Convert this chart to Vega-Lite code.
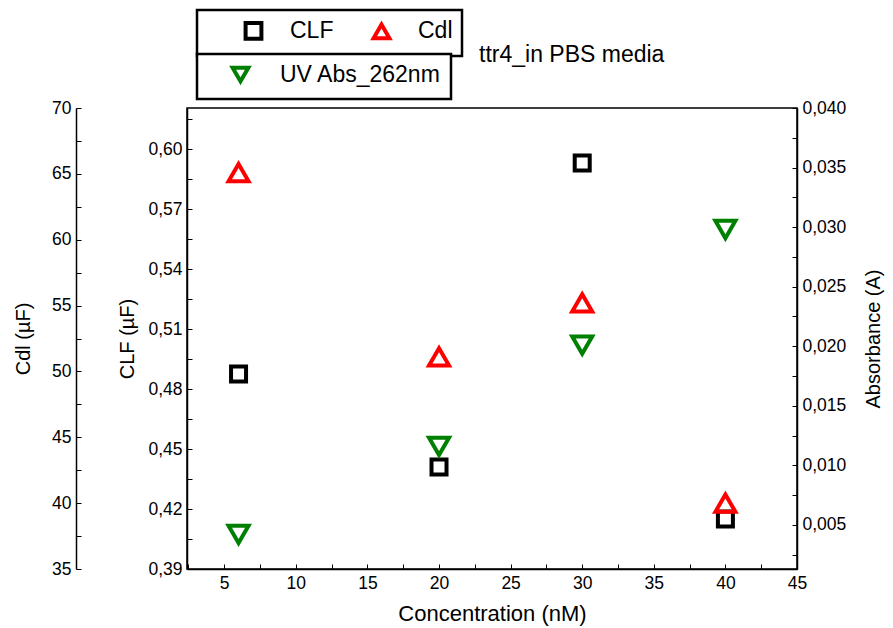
{
  "$schema": "https://vega.github.io/schema/vega-lite/v6.json",
  "width": 610,
  "height": 461,
  "autosize": {"type": "none"},
  "padding": {"left": 187, "top": 108, "right": 96, "bottom": 59},
  "background": "white",
  "config": {
    "font": "Liberation Sans",
    "view": {"stroke": "black", "strokeWidth": 1.5},
    "legend": {"strokeWidth": 2.5},
    "axis": {
      "labelFont": "Liberation Sans",
      "titleFont": "Liberation Sans",
      "labelFontSize": 17.5,
      "titleFontSize": 20,
      "titleFontWeight": "normal",
      "labelColor": "black",
      "titleColor": "black",
      "domainColor": "black",
      "domainWidth": 1.5,
      "tickColor": "black",
      "tickWidth": 1,
      "tickSize": -5,
      "labelPadding": 10,
      "grid": false,
      "labelFlush": false,
      "labelOverlap": false
    }
  },
  "title": {
    "text": "ttr4_in PBS media",
    "anchor": "start",
    "frame": "group",
    "dx": 292,
    "offset": -58,
    "fontSize": 23,
    "fontWeight": "normal",
    "font": "Liberation Sans",
    "color": "black"
  },
  "data": {
    "values": [
      {"concentration": 6, "series": "CLF", "value": 0.4875},
      {"concentration": 20, "series": "CLF", "value": 0.441},
      {"concentration": 30, "series": "CLF", "value": 0.593},
      {"concentration": 40, "series": "CLF", "value": 0.415},
      {"concentration": 6, "series": "Cdl", "value": 65.1},
      {"concentration": 20, "series": "Cdl", "value": 51.1},
      {"concentration": 30, "series": "Cdl", "value": 55.2},
      {"concentration": 40, "series": "Cdl", "value": 40.0},
      {"concentration": 6, "series": "UV Abs_262nm", "value": 0.0042},
      {"concentration": 20, "series": "UV Abs_262nm", "value": 0.0116},
      {"concentration": 30, "series": "UV Abs_262nm", "value": 0.0201},
      {"concentration": 40, "series": "UV Abs_262nm", "value": 0.0298}
    ]
  },
  "encoding": {
    "x": {
      "field": "concentration",
      "type": "quantitative",
      "scale": {"domain": [2.4, 45], "nice": false, "zero": false},
      "axis": {
        "title": "Concentration (nM)",
        "titleFontSize": 22,
        "values": [2.5, 5, 7.5, 10, 12.5, 15, 17.5, 20, 22.5, 25, 27.5, 30, 32.5, 35, 37.5, 40, 42.5, 45],
        "labelExpr": "datum.value % 5 == 0 ? datum.label : ''",
        "titlePadding": 12
      }
    }
  },
  "layer": [
    {
      "encoding": {
        "color": {
          "field": "series",
          "type": "nominal",
          "scale": {"domain": ["CLF", "Cdl"], "range": ["black", "#ff0000"]},
          "legend": {
            "title": null,
            "orient": "none",
            "legendX": 10,
            "legendY": -98,
            "direction": "horizontal",
            "columns": 2,
            "fillColor": "white",
            "strokeColor": "black",
            "padding": 9,
            "labelFont": "Liberation Sans",
            "labelFontSize": 23,
            "labelColor": "black",
            "labelLimit": 300,
            "symbolSize": 250,
            "symbolStrokeWidth": 4,
            "symbolOffset": 36,
            "labelOffset": 25,
            "columnPadding": 0
          }
        },
        "shape": {
          "field": "series",
          "type": "nominal",
          "scale": {"domain": ["CLF", "Cdl"], "range": ["square", "triangle-up"]}
        }
      },
      "layer": [
        {
          "transform": [{"filter": "datum.series == 'CLF'"}],
          "mark": {"type": "point", "filled": false, "strokeWidth": 4, "size": 225, "opacity": 1},
          "encoding": {
            "y": {
              "field": "value",
              "type": "quantitative",
              "scale": {"domain": [0.39, 0.6205], "nice": false, "zero": false},
              "axis": {
                "orient": "left",
                "title": "CLF (µF)",
                "values": [0.39, 0.405, 0.42, 0.435, 0.45, 0.465, 0.48, 0.495, 0.51, 0.525, 0.54, 0.555, 0.57, 0.585, 0.6, 0.615],
                "labelExpr": "round(datum.value * 1000) % 30 == 0 ? replace(format(datum.value, '.2f'), '.', ',') : ''",
                "titlePadding": 10
              }
            }
          }
        },
        {
          "transform": [{"filter": "datum.series == 'Cdl'"}],
          "mark": {"type": "point", "filled": false, "strokeWidth": 4, "size": 400, "opacity": 1},
          "encoding": {
            "y": {
              "field": "value",
              "type": "quantitative",
              "scale": {"domain": [35, 70], "nice": false, "zero": false},
              "axis": {
                "orient": "left",
                "offset": 111,
                "title": "Cdl (µF)",
                "values": [35, 37.5, 40, 42.5, 45, 47.5, 50, 52.5, 55, 57.5, 60, 62.5, 65, 67.5, 70],
                "labelExpr": "datum.value % 5 == 0 ? datum.label : ''",
                "titlePadding": 18
              }
            }
          }
        }
      ],
      "resolve": {"scale": {"y": "independent"}}
    },
    {
      "transform": [{"filter": "datum.series == 'UV Abs_262nm'"}],
      "mark": {"type": "point", "filled": false, "strokeWidth": 4, "size": 400, "opacity": 1},
      "encoding": {
        "color": {
          "field": "series",
          "type": "nominal",
          "scale": {"domain": ["UV Abs_262nm"], "range": ["#008000"]},
          "legend": {
            "title": null,
            "orient": "none",
            "legendX": 10,
            "legendY": -54,
            "fillColor": "white",
            "strokeColor": "black",
            "padding": 9,
            "labelFont": "Liberation Sans",
            "labelFontSize": 23,
            "labelColor": "black",
            "labelLimit": 300,
            "symbolSize": 250,
            "symbolStrokeWidth": 4,
            "symbolOffset": 23,
            "labelOffset": 28
          }
        },
        "shape": {
          "field": "series",
          "type": "nominal",
          "scale": {"domain": ["UV Abs_262nm"], "range": ["triangle-down"]}
        },
        "y": {
          "field": "value",
          "type": "quantitative",
          "scale": {"domain": [0.0013, 0.04], "nice": false, "zero": false},
          "axis": {
            "orient": "right",
            "title": "Absorbance (A)",
            "titleAngle": -90,
            "values": [0.0025, 0.005, 0.0075, 0.01, 0.0125, 0.015, 0.0175, 0.02, 0.0225, 0.025, 0.0275, 0.03, 0.0325, 0.035, 0.0375, 0.04],
            "labelExpr": "round(datum.value * 10000) % 50 == 0 ? replace(format(datum.value, '.3f'), '.', ',') : ''",
            "titlePadding": 38
          }
        }
      }
    }
  ],
  "resolve": {"scale": {"y": "independent", "color": "independent", "shape": "independent"}}
}
